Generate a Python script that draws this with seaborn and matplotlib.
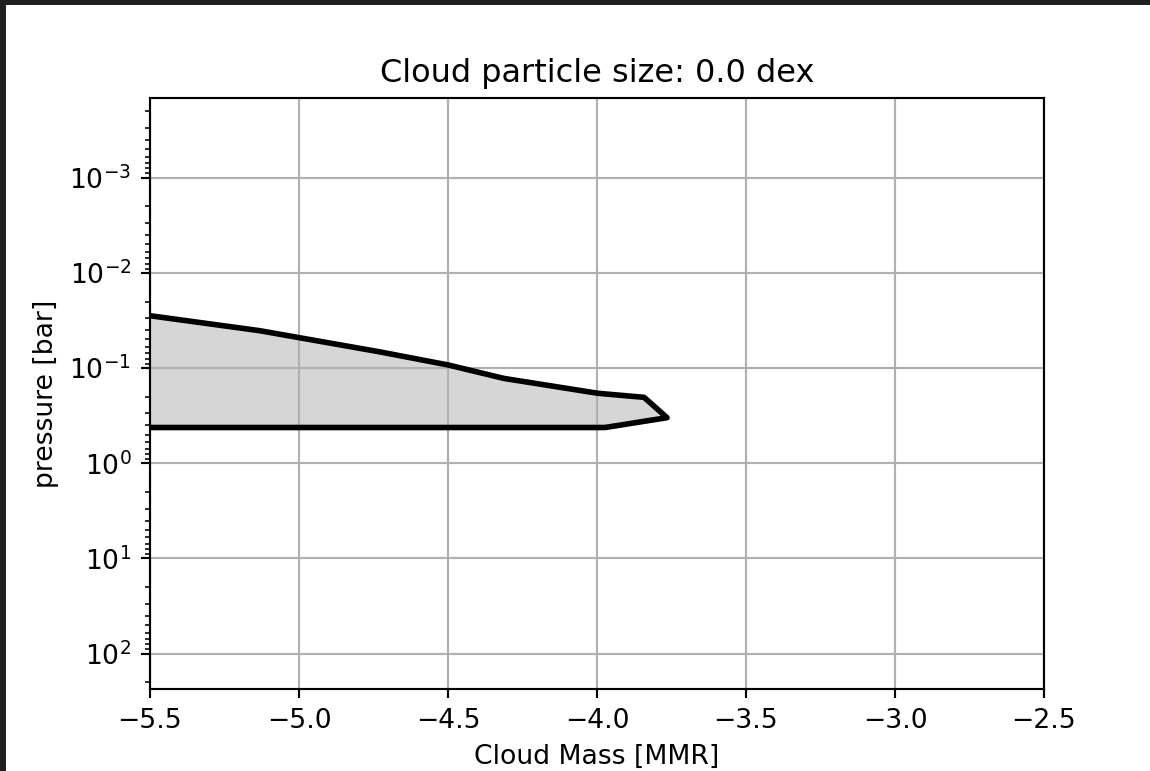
import matplotlib
matplotlib.use("Agg")
import matplotlib.pyplot as plt
from matplotlib.patches import Rectangle
import seaborn as sns
import pandas as pd

# Cloud profile outline (log10 cloud mass MMR vs pressure in bar)
cloud_log_mmr = [-5.5, -5.134, -4.732, -4.500, -4.312, -3.997, -3.842, -3.765, -3.973, -5.5]
pressure_bar = [0.0282, 0.0404, 0.0673, 0.0927, 0.1285, 0.184, 0.203, 0.332, 0.421, 0.421]

title = "Cloud particle size: 0.0 dex"
x_ticks = [-5.5, -5.0, -4.5, -4.0, -3.5, -3.0, -2.5]

W, H, DPI = 1150, 771, 192
fig = plt.figure(figsize=(W / DPI, H / DPI), dpi=DPI)
fig.patch.set_facecolor("#1f1f21")
fig.patches.append(Rectangle((6 / W, 0), 1, (H - 5) / H, transform=fig.transFigure,
                             facecolor="white", edgecolor="none", zorder=-10))

ax = fig.add_axes([150 / W, (H - 689) / H, (1044 - 150) / W, (689 - 98) / H])

df = pd.DataFrame({"mmr": cloud_log_mmr, "p": pressure_bar})

ax.fill(df["mmr"], df["p"], color="#d6d6d6", zorder=1)
sns.lineplot(data=df, x="mmr", y="p", sort=False, estimator=None,
             color="black", linewidth=2.1, ax=ax, zorder=3)

ax.set_yscale("log")
ax.set_ylim(235, 1.456e-4)
ax.set_xlim(-5.5, -2.5)
ax.set_xticks(x_ticks)
ax.grid(True, color="#b0b0b0", linewidth=0.8)
ax.set_xlabel("Cloud Mass [MMR]")
ax.set_ylabel("pressure [bar]")
ax.set_title(title)

fig.savefig("out.png", dpi=DPI, facecolor=fig.get_facecolor())
